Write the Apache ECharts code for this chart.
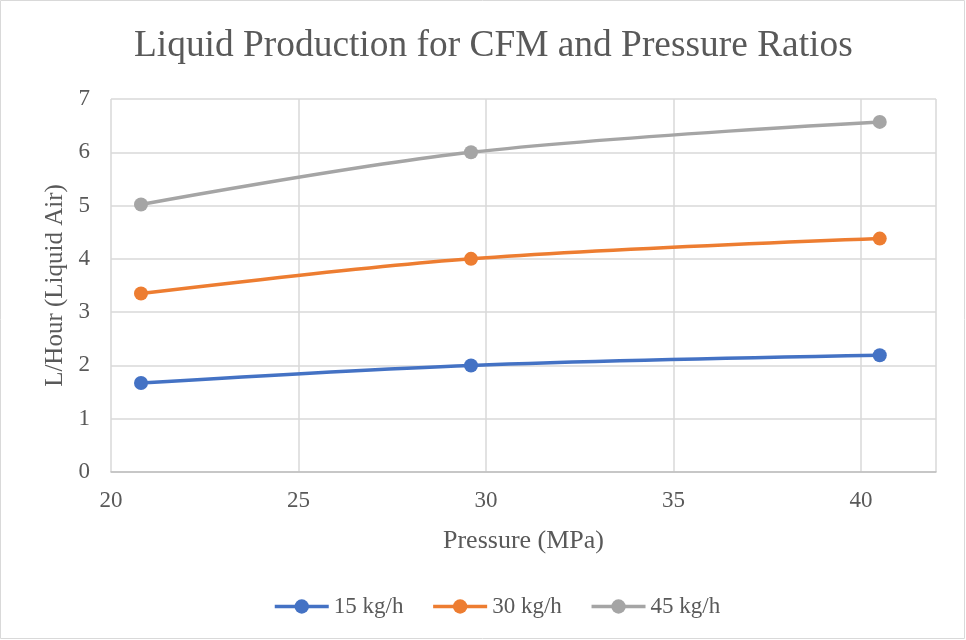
<!DOCTYPE html>
<html><head><meta charset="utf-8">
<script src="https://cdn.jsdelivr.net/npm/echarts@6/dist/echarts.min.js"></script>
<style>html,body{margin:0;padding:0;background:#fff}#c{width:966px;height:640px}</style>
</head><body><div id="c"></div>
<script>
const pressure = [20.8, 29.6, 40.5];
const s15 = [1.67, 2.00, 2.19];
const s30 = [3.35, 4.00, 4.38];
const s45 = [5.02, 6.00, 6.57];
const seriesNames = ['15 kg/h', '30 kg/h', '45 kg/h'];
const colors = ['#4472C4', '#ED7D31', '#A5A5A5'];
const FONT = '"Liberation Serif", "Times New Roman", serif';
const chart = echarts.init(document.getElementById('c'));
function mk(name, vals, color) {
  return {
    name: name, type: 'line', smooth: 0.35,
    data: pressure.map((p, i) => [p, vals[i]]),
    symbol: 'circle', symbolSize: 14,
    lineStyle: { width: 3.5, color: color },
    itemStyle: { color: color },
    emphasis: { disabled: true }
  };
}
chart.setOption({
  animation: false,
  color: colors,
  title: {
    text: 'Liquid Production for CFM and Pressure Ratios',
    left: 129, top: 23,
    textStyle: { fontFamily: FONT, fontSize: 37.4, fontWeight: 'normal', color: '#595959' }
  },
  grid: { left: 111, top: 99, right: 30, bottom: 168 },
  xAxis: {
    type: 'value', min: 20, max: 42, interval: 5,
    name: 'Pressure (MPa)', nameLocation: 'middle', nameGap: 56,
    nameTextStyle: { fontFamily: FONT, fontSize: 26, color: '#595959' },
    axisLine: { show: true, lineStyle: { color: '#BFBFBF', width: 1.5 } },
    axisTick: { show: false },
    axisLabel: { showMaxLabel: false, fontFamily: FONT, fontSize: 23, color: '#595959', margin: 17 },
    splitLine: { show: true, lineStyle: { color: '#D9D9D9', width: 1.5 } }
  },
  yAxis: {
    type: 'value', min: 0, max: 7, interval: 1,
    name: 'L/Hour (Liquid Air)', nameLocation: 'middle', nameGap: 41,
    nameTextStyle: { fontFamily: FONT, fontSize: 25, color: '#595959' },
    axisLine: { show: false },
    axisTick: { show: false },
    axisLabel: { fontFamily: FONT, fontSize: 23, color: '#595959', margin: 21 },
    splitLine: { show: true, lineStyle: { color: '#D9D9D9', width: 1.5 } }
  },
  legend: {
    bottom: 22, left: 273, padding: 0, itemWidth: 54, itemHeight: 18, itemGap: 28,
    data: seriesNames,
    lineStyle: { width: 3.5 },
    textStyle: { fontFamily: FONT, fontSize: 23, color: '#595959' }
  },
  series: [mk(seriesNames[0], s15, colors[0]), mk(seriesNames[1], s30, colors[1]), mk(seriesNames[2], s45, colors[2])],
  graphic: [{
    type: 'rect', shape: { x: 0.5, y: 0.5, width: 964, height: 638 },
    style: { fill: 'none', stroke: '#D9D9D9', lineWidth: 1 }, silent: true
  }]
});
</script></body></html>
